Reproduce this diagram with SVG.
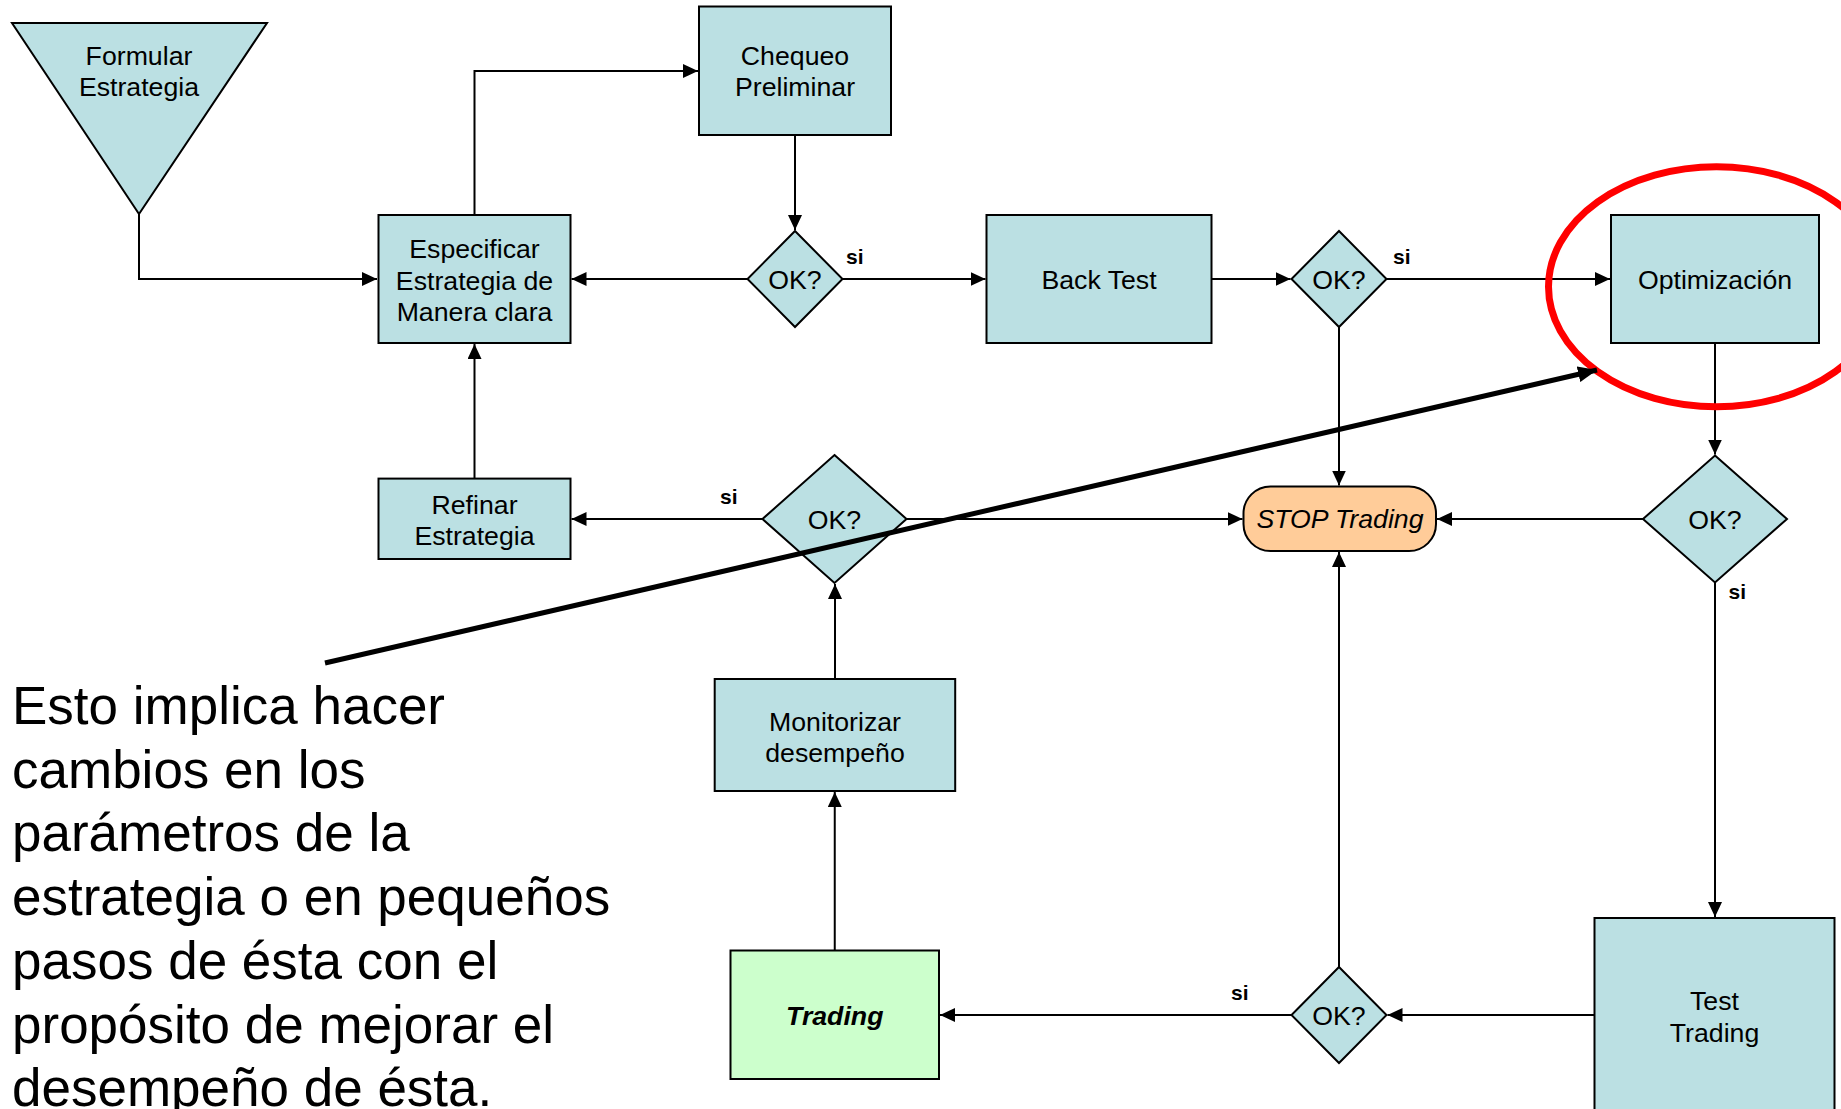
<svg xmlns="http://www.w3.org/2000/svg" width="1841" height="1109" viewBox="0 0 1841 1109">
<style>
.n{fill:#BBE0E3;stroke:#000;stroke-width:2}
.t{font-family:"Liberation Sans",Arial,sans-serif;font-size:26.7px;fill:#000;text-anchor:middle}
.si{font-family:"Liberation Sans",Arial,sans-serif;font-size:21px;font-weight:bold;fill:#000}
.c{fill:none;stroke:#000;stroke-width:2;marker-end:url(#ah)}
.big{font-family:"Liberation Sans",Arial,sans-serif;font-size:53px;fill:#000}
</style>
<defs>
<marker id="ah" markerUnits="userSpaceOnUse" markerWidth="16" markerHeight="14" refX="15" refY="7" orient="auto">
<path d="M0,0 L15,7 L0,14 z" fill="#000"/>
</marker>
<marker id="ah2" markerUnits="userSpaceOnUse" markerWidth="20" markerHeight="16" refX="19" refY="8" orient="auto">
<path d="M0,0 L19,8 L0,16 z" fill="#000"/>
</marker>
</defs>
<rect width="1841" height="1109" fill="#fff"/>
<g id="connectors">
<path class="c" d="M139,214 V279 H377"/>
<path class="c" d="M474.5,215 V71 H698"/>
<path class="c" d="M795,135 V230"/>
<path class="c" d="M747.5,279 H571.5"/>
<path class="c" d="M842.5,279 H985.5"/>
<path class="c" d="M1211.5,279 H1290.5"/>
<path class="c" d="M1386.5,279 H1610"/>
<path class="c" d="M1339,327 V485.5"/>
<path class="c" d="M1715,343 V454.5"/>
<path class="c" d="M1643,519 H1437"/>
<path class="c" d="M1715,582.5 V917"/>
<path class="c" d="M1594.5,1015 H1387.5"/>
<path class="c" d="M1339,967 V552"/>
<path class="c" d="M1291.5,1015 H940"/>
<path class="c" d="M834.75,950.5 V792"/>
<path class="c" d="M835,679 V584"/>
<path class="c" d="M762.5,519 H571.5"/>
<path class="c" d="M906.5,519 H1242.5"/>
<path class="c" d="M474.5,478.6 V344"/>
</g>
<g id="formular">
<polygon class="n" points="12,23 267,23 139,214"/>
<text class="t" x="139" y="65">Formular</text>
<text class="t" x="139" y="96">Estrategia</text>
</g>
<g id="chequeo">
<rect class="n" x="699" y="6.5" width="192" height="128.5"/>
<text class="t" x="795" y="65">Chequeo</text>
<text class="t" x="795" y="96">Preliminar</text>
</g>
<g id="especificar">
<rect class="n" x="378.5" y="215" width="192" height="128"/>
<text class="t" x="474.5" y="258">Especificar</text>
<text class="t" x="474.5" y="289.5">Estrategia de</text>
<text class="t" x="474.5" y="321">Manera clara</text>
</g>
<g id="ok1">
<polygon class="n" points="795,231 842.5,279 795,327 747.5,279"/>
<text class="t" x="795" y="288.5">OK?</text>
</g>
<g id="backtest">
<rect class="n" x="986.5" y="215" width="225" height="128"/>
<text class="t" x="1099" y="288.5">Back Test</text>
</g>
<g id="ok2">
<polygon class="n" points="1339,231 1386.5,279 1339,327 1291.5,279"/>
<text class="t" x="1339" y="288.5">OK?</text>
</g>
<g id="optimizacion">
<rect class="n" x="1611" y="215" width="208" height="128"/>
<text class="t" x="1715" y="288.5">Optimización</text>
</g>
<g id="ok4">
<polygon class="n" points="1715,455.5 1787,519 1715,582.5 1643,519"/>
<text class="t" x="1715" y="528.5">OK?</text>
</g>
<g id="stop">
<rect x="1243.5" y="486.5" width="192.5" height="64.5" rx="27" ry="27" fill="#FFCC99" stroke="#000" stroke-width="2"/>
<text class="t" x="1340" y="527.5" font-style="italic" font-size="24">STOP Trading</text>
</g>
<g id="ok3">
<polygon class="n" points="834.5,455 906.5,519 834.5,583 762.5,519"/>
<text class="t" x="834.5" y="528.5">OK?</text>
</g>
<g id="refinar">
<rect class="n" x="378.5" y="478.6" width="192" height="80.4"/>
<text class="t" x="474.5" y="513.5">Refinar</text>
<text class="t" x="474.5" y="544.5">Estrategia</text>
</g>
<g id="monitorizar">
<rect class="n" x="714.7" y="679" width="240.5" height="112"/>
<text class="t" x="835" y="730.5">Monitorizar</text>
<text class="t" x="835" y="761.5">desempeño</text>
</g>
<g id="trading">
<rect x="730.5" y="950.5" width="208.5" height="128.5" fill="#CCFFCC" stroke="#000" stroke-width="2"/>
<text class="t" x="834.75" y="1025" font-weight="bold" font-style="italic">Trading</text>
</g>
<g id="ok5">
<polygon class="n" points="1339,967 1386.5,1015 1339,1063 1291.5,1015"/>
<text class="t" x="1339" y="1024.5">OK?</text>
</g>
<g id="testtrading">
<rect class="n" x="1594.5" y="918" width="240" height="210"/>
<text class="t" x="1714.5" y="1010">Test</text>
<text class="t" x="1714.5" y="1041.5">Trading</text>
</g>
<g id="labels">
<text class="si" x="846" y="264">si</text>
<text class="si" x="1393" y="264">si</text>
<text class="si" x="720" y="503.5">si</text>
<text class="si" x="1728.5" y="599">si</text>
<text class="si" x="1231" y="999.5">si</text>
</g>
<g id="highlight">
<ellipse cx="1716.5" cy="286.7" rx="168" ry="120" fill="none" stroke="#FF0000" stroke-width="7"/>
</g>
<g id="note">
<line x1="325" y1="663" x2="1597" y2="370" stroke="#000" stroke-width="5" marker-end="url(#ah2)"/>
<text class="big" x="12" y="724">Esto implica hacer</text>
<text class="big" x="12" y="787.7">cambios en los</text>
<text class="big" x="12" y="851.4">parámetros de la</text>
<text class="big" x="12" y="915">estrategia o en pequeños</text>
<text class="big" x="12" y="978.8">pasos de ésta con el</text>
<text class="big" x="12" y="1042.5">propósito de mejorar el</text>
<text class="big" x="12" y="1106.2">desempeño de ésta.</text>
</g>
</svg>
